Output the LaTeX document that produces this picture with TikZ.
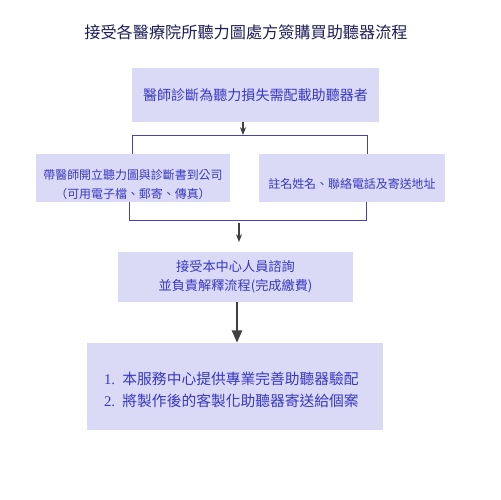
\documentclass[tikz,border=0pt]{standalone}
\usepackage{fontspec}
\setmainfont{Noto Sans CJK TC}
\newfontfamily\numfont{Liberation Serif}
\usetikzlibrary{arrows.meta}
\definecolor{boxfill}{HTML}{DADAF6}
\definecolor{boxtext}{HTML}{3838C4}
\definecolor{titletext}{HTML}{1E1E5A}
\definecolor{brk}{HTML}{4A40B8}
\definecolor{arr}{HTML}{404040}
\begin{document}
\begin{tikzpicture}[x=0.02cm,y=-0.02cm,
  box/.style={fill=boxfill,draw=none,inner sep=0pt,text=boxtext,align=center},
  brkline/.style={draw=brk,line width=0.5pt},
  arrsmall/.style={draw=arr,line width=0.6pt,-{Stealth[length=4.5pt,width=3.5pt]}},
  arrbig/.style={draw=arr,line width=1.1pt,-{Triangle[length=7pt,width=5.8pt]}}]
\useasboundingbox (0,0) rectangle (500,500);
\node[text=titletext,font=\fontsize{9.2pt}{11pt}\selectfont] (title) at (246,32) {接受各醫療院所聽力圖處方簽購買助聽器流程};
\node[box,font=\fontsize{8pt}{9pt}\selectfont,
  minimum width=4.94cm,minimum height=1.08cm] (b1) at (255.5,95) {醫師診斷為聽力損失需配載助聽器者};
\node[box,font=\fontsize{6.8pt}{10.8pt}\selectfont,minimum width=3.88cm,minimum height=0pt,
  text height=0.892cm,text depth=0.068cm] (b2) at (133,178)
  {帶醫師開立聽力圖與診斷書到公司\\（可用電子檔、郵寄、傳真）};
\node[box,font=\fontsize{6.8pt}{9pt}\selectfont,minimum width=3.72cm,minimum height=0pt,
  text height=0.69cm,text depth=0.27cm] (b3) at (352,178)
  {註名姓名、聯絡電話及寄送地址};
\node[box,font=\fontsize{7.5pt}{10.8pt}\selectfont,minimum width=4.7cm,minimum height=0.99cm] (b4) at (235.5,277)
  {接受本中心人員諮詢\\並負責解釋流程(完成繳費)};
\node[box,font=\fontsize{8.4pt}{12.2pt}\selectfont,inner xsep=0.34cm,text width=5.24cm,align=left,
  minimum height=0pt,text height=0.834cm,text depth=0.906cm] (b5) at (235,386.5)
  {{\numfont 1. }本服務中心提供專業完善助聽器驗配\\{\numfont 2. }將製作後的客製化助聽器寄送給個案};
% top bracket
\coordinate (tl) at (132,135);
\coordinate (tr) at (367,135);
\coordinate (tm) at (243,135);
\draw[brkline] (b2.north -| tl) -- (tl) -- (tr) -- (b3.north -| tr);
\draw[arrsmall] (b1.south -| tm) -- (tm);
% bottom bracket
\coordinate (bl) at (129,220);
\coordinate (br) at (366,220);
\draw[brkline] (b2.south -| bl) -- (bl) -- (br) -- (b3.south -| br);
\coordinate (a2s) at (239,223);
\coordinate (a2e) at (239,242);
\draw[arrsmall] (a2s) -- (a2e);
\draw[arrbig] (b4.south -| 237,0) -- (b5.north -| 237,0);
\end{tikzpicture}
\end{document}
